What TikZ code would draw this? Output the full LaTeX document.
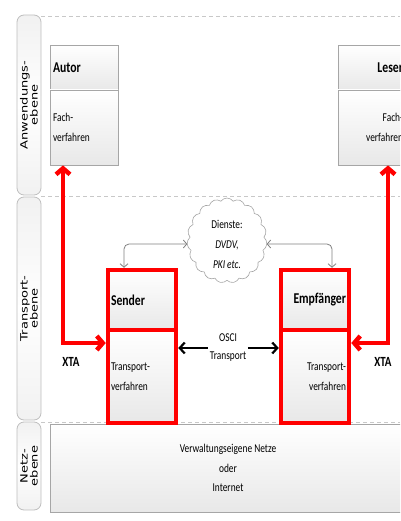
\documentclass[tikz,border=0pt]{standalone}
\usepackage{fontspec}
\setmainfont{Carlito}[FakeStretch=0.78]
\newfontfamily\lanefont{DejaVu Sans}[FakeStretch=1.3]
\usetikzlibrary{arrows.meta,shapes.symbols}
\definecolor{boxgray}{RGB}{166,166,166}
\definecolor{lanegray}{RGB}{190,190,190}
\definecolor{dashgray}{RGB}{200,200,200}
\definecolor{fillgray}{RGB}{232,232,232}
\definecolor{xred}{RGB}{255,0,0}
\definecolor{arrgray}{RGB}{128,128,128}
\begin{document}
\begin{tikzpicture}[x=1pt,y=-1pt,
  lane/.style={rotate=90, draw=lanegray, line width=0.8pt, rounded corners=7pt,
    minimum height=24pt, inner sep=0pt, align=center,
    top color=fillgray!60, bottom color=fillgray!60, middle color=white,
    font=\lanefont\fontsize{10}{10}\selectfont},
  part/.style={minimum width=68pt, text width=62pt, inner sep=3pt,
    top color=white, bottom color=fillgray},
  graypart/.style={part, draw=boxgray, line width=0.8pt},
  redpart/.style={part, draw=xred, line width=4.5pt},
  hdr/.style={font=\fontsize{15}{18}\selectfont\bfseries},
  txt/.style={font=\fontsize{12}{20}\selectfont},
  dashline/.style={draw=dashgray, line width=0.8pt, dash pattern=on 4pt off 3pt},
  redarrow/.style={draw=xred, line width=4.5pt, line join=miter,
    {Straight Barb[length=6pt,width=14pt]}-{Straight Barb[length=6pt,width=14pt]}},
  blkstart/.style={draw=black, line width=2.2pt, {Straight Barb[length=5pt,width=11pt]}-},
  blkend/.style={draw=black, line width=2.2pt, -{Straight Barb[length=5pt,width=11pt]}},
  grayarrow/.style={draw=arrgray, line width=0.8pt, rounded corners=5pt,
    {Straight Barb[length=3.5pt,width=8pt]}-{Straight Barb[length=3.5pt,width=8pt]}},
  xta/.style={font=\fontsize{14}{16}\selectfont\bfseries, inner sep=0pt}
]
\useasboundingbox (0,0) rectangle (400,521);
\clip (0,0) rectangle (400,521);

% lanes
\node[lane, minimum width=180pt] (laneA) at (29,105) {Anwendungs-\\ebene};
\node[lane, minimum width=223pt] (laneT) at (29,308.5) {Transport-\\ebene};
\node[lane, minimum width=88pt] (laneN) at (29,466) {Netz-\\ebene};

% dashed separators
\draw[dashline] (41,16) -- (400,16);
\draw[dashline] (41,196) -- (400,196);
\draw[dashline] (41,422) -- (400,422);

% network box
\node[draw=boxgray, line width=0.8pt, top color=white, bottom color=fillgray,
  minimum width=356pt, minimum height=88pt, align=center, txt,
  font=\fontsize{12}{19.5}\selectfont] (netz) at (228,468)
  {Verwaltungseigene Netze\\oder\\Internet};

% Autor
\node[graypart, minimum height=45pt, align=left, hdr] (autorH) at (84,67.5) {Autor};
\node[graypart, minimum height=75pt, align=left, txt] (autorB) at (84,127.5) {Fach-\\verfahren};

% Leser
\node[graypart, minimum height=45pt, align=right, hdr] (leserH) at (372,67.5) {Leser};
\node[graypart, minimum height=75pt, align=right, txt] (leserB) at (372,127.5) {Fach-\\verfahren};

% Sender
\node[redpart, minimum height=60pt, align=left, hdr] (senderH) at (142,300) {Sender};
\node[redpart, minimum height=93pt, align=left, txt] (senderB) at (142,376.5) {Transport-\\verfahren};

% Empfaenger
\node[redpart, minimum height=60pt, align=right, hdr] (empH) at (315,300) {Empfänger};
\node[redpart, minimum height=93pt, align=right, txt] (empB) at (315,376.5) {Transport-\\verfahren};

% cloud
\node[cloud, cloud puffs=19, cloud puff arc=110, aspect=1, draw=boxgray,
  fill=white, line width=0.6pt, minimum width=80pt, minimum height=85pt] (cloud) at (227,240.5) {};
\node[align=center, font=\fontsize{12}{20}\selectfont] (dienste) at (227,244)
  {Dienste:\\\textit{DVDV,}\\\textit{PKI etc.}};

% gray arrows
\coordinate (gl) at (124,244);
\coordinate (gr) at (332,244);
\draw[grayarrow] (senderH.north -| gl) -- (gl) -- (cloud.west |- gl);
\draw[grayarrow] (cloud.east |- gr) -- (gr) -- (empH.north -| gr);

% red XTA arrows
\coordinate (xtaL) at (63,343);
\coordinate (xtaR) at (388,343);
\draw[redarrow] (autorB.south -| xtaL) -- (xtaL) -- (senderB.west |- xtaL);
\draw[redarrow] (leserB.south -| xtaR) -- (xtaR) -- (empB.east |- xtaR);
\node[xta] (xtaLt) at (71,362) {XTA};
\node[xta] (xtaRt) at (383,362) {XTA};

% OSCI transport
\node[align=center, inner xsep=1.5pt, inner ysep=0pt, font=\fontsize{12}{18}\selectfont] (osci) at (228,348) {OSCI\\Transport};
\draw[blkstart] (senderB.east |- osci) -- (osci.west);
\draw[blkend] (osci.east) -- (empB.west |- osci);
\end{tikzpicture}
\end{document}
